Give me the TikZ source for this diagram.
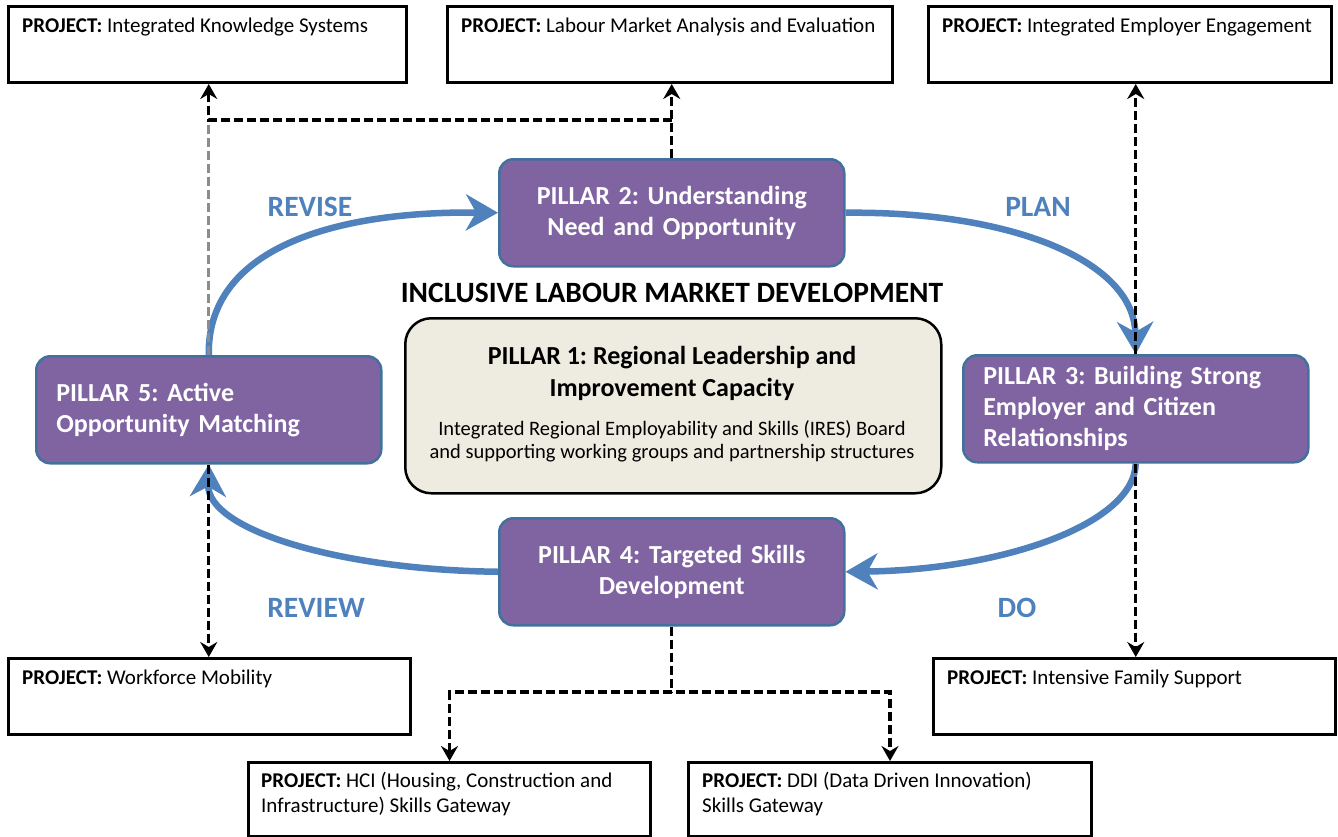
\documentclass[tikz,border=0pt]{standalone}
\usepackage{fontspec}
\setmainfont{Carlito}
\usetikzlibrary{arrows.meta,calc}
\definecolor{pfill}{HTML}{8064A2}
\definecolor{pborder}{HTML}{41719C}
\definecolor{cblue}{HTML}{4F81BD}
\definecolor{ponefill}{HTML}{EEECE1}
\definecolor{dgrey}{HTML}{8C8C8C}
\frenchspacing
\begin{document}
\begin{tikzpicture}[x=1pt,y=-1pt,
 proj/.style={draw=black, line width=3pt, fill=white, anchor=north west, inner sep=0pt},
 ptext/.style={anchor=north west, inner sep=0pt, font=\fontsize{21}{25}\selectfont, align=left},
 pillar/.style={draw=pborder, line width=2.5pt, fill=pfill, rounded corners=14pt, anchor=north west,
   inner ysep=0pt, inner xsep=20pt, minimum width=345pt, minimum height=107pt, text width=305pt,
   text=white, font=\fontsize{26}{31}\selectfont\bfseries},
 conn/.style={black, line width=3.2pt, dash pattern=on 9pt off 4pt},
 tip/.style={-{Stealth[length=15pt,width=17pt,inset=5pt]}},
 tips/.style={{Stealth[length=15pt,width=17pt,inset=5pt]}-{Stealth[length=15pt,width=17pt,inset=5pt]}},
 cyc/.style={cblue, line width=6.5pt, -{Stealth[length=32pt,width=36pt,inset=10pt]}},
 phase/.style={text=cblue, font=\fontsize{29.5}{32}\selectfont\bfseries, inner sep=0pt}
]
\useasboundingbox (0,0) rectangle (1338,836);
\fill[white] (0,0) rectangle (1338,836);

% project boxes
\node[proj, minimum width=398pt, minimum height=76pt] (iks) at (7,5) {};
\node[proj, minimum width=445pt, minimum height=76pt] (lmae) at (446,5) {};
\node[proj, minimum width=403pt, minimum height=76pt] (iee) at (927,5) {};
\node[proj, minimum width=402pt, minimum height=76pt] (wm) at (7,657) {};
\node[proj, minimum width=402pt, minimum height=74pt] (hci) at (247,761) {};
\node[proj, minimum width=403pt, minimum height=74pt] (ddi) at (687,761) {};
\node[proj, minimum width=402pt, minimum height=76pt] (ifs) at (932,657) {};

\node[ptext] (ikst) at ($(iks.north west)+(15,13)$) {\textbf{PROJECT:} Integrated Knowledge Systems};
\node[ptext] (lmaet) at ($(lmae.north west)+(15,13)$) {\textbf{PROJECT:} Labour Market Analysis and Evaluation};
\node[ptext] (ieet) at ($(iee.north west)+(15,13)$) {\textbf{PROJECT:} Integrated Employer Engagement};
\node[ptext] (wmt) at ($(wm.north west)+(15,13)$) {\textbf{PROJECT:} Workforce Mobility};
\node[ptext] (hcit) at ($(hci.north west)+(14,11)$) {\textbf{PROJECT:} HCI (Housing, Construction and\\Infrastructure) Skills Gateway};
\node[ptext] (ddit) at ($(ddi.north west)+(15,11)$) {\textbf{PROJECT:} DDI (Data Driven Innovation)\\Skills Gateway};
\node[ptext] (ifst) at ($(ifs.north west)+(15,13)$) {\textbf{PROJECT:} Intensive Family Support};

% pillars
\node[pillar, align=center] (p2) at (498,158) {PILLAR 2: Understanding\\Need and Opportunity};
\node[pillar, align=left] (p5) at (35,355) {PILLAR 5: Active\\Opportunity Matching};
\node[pillar, align=left] (p3) at (962,354) {PILLAR 3: Building Strong\\Employer and Citizen\\Relationships};
\node[pillar, align=center] (p4) at (498,517) {PILLAR 4: Targeted Skills\\Development};

\node[draw=black, line width=2.5pt, fill=ponefill, rounded corners=26pt, anchor=north west,
  minimum width=536pt, minimum height=175pt, inner sep=0pt] (p1) at (404,317) {};
\node[inner sep=0pt, align=center, font=\fontsize{26}{32}\selectfont\bfseries] (p1t) at (672,373)
  {PILLAR 1: Regional Leadership and\\Improvement Capacity};
\node[inner sep=0pt, align=center, font=\fontsize{20.5}{23}\selectfont] (p1b) at (672,441)
  {Integrated Regional Employability and Skills (IRES) Board\\and supporting working groups and partnership structures};

\node[inner sep=0pt, font=\fontsize{29.5}{32}\selectfont\bfseries] (title) at (672,293) {INCLUSIVE LABOUR MARKET DEVELOPMENT};

% phase labels
\node[phase] (revise) at (310,207) {REVISE};
\node[phase] (plan) at (1038,207) {PLAN};
\node[phase] (review) at (316,608) {REVIEW};
\node[phase] (do) at (1017,608) {DO};

% cycle arrows
\draw[cyc] (p5.north) .. controls (207,250) and (330,211) .. (p2.west);
\draw[cyc] (p2.east) .. controls (1010,211) and (1134,260) .. (p3.north);
\draw[cyc] (p3.south) .. controls (1134,525) and (1000,570) .. (p4.east);
\draw[cyc] (p4.west) .. controls (340,570) and (207,530) .. (p5.south);

% dashed connectors
\coordinate (j1) at (p5.north |- 0,120);
\coordinate (j2) at (p2.north |- 0,120);
\coordinate (j4) at (p4.south |- 0,692);
\draw[conn, dgrey] (p5.north) -- (j1);
\draw[conn, tip] (p2.north) -- (p2.north |- lmae.south);
\draw[conn, tip] (j2) -- (j1) -- (j1 |- iks.south);
\draw[conn, tip] (p3.north) -- (p3.north |- iee.south);
\draw[conn, tip] (p3.south) -- (p3.south |- ifs.north);
\draw[conn, tip] (p5.south) -- (p5.south |- wm.north);
\draw[conn] (p4.south) -- (j4);
\draw[conn, tips] (hci.north) -- (hci.north |- j4) -- (ddi.north |- j4) -- (ddi.north);
\end{tikzpicture}
\end{document}
